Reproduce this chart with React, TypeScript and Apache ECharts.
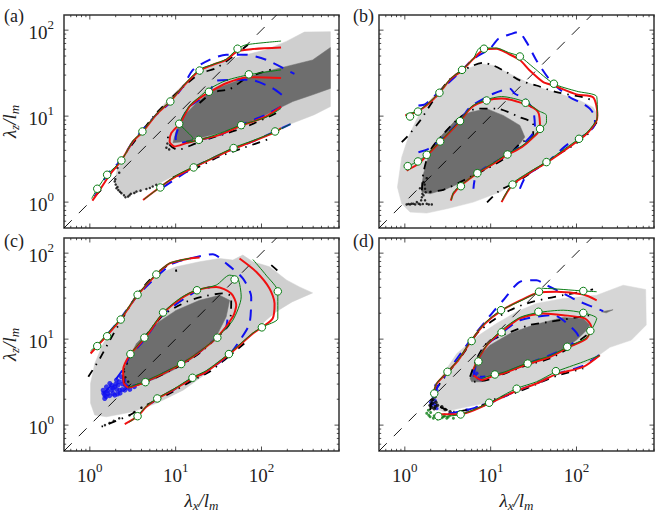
import React, { useEffect, useRef } from "react";
import * as echarts from "echarts";

type P = number[][];

const xTicks = [0.6,0.7,0.8,0.9,1,2,3,4,5,6,7,8,9,10,20,30,40,50,60,70,80,90,100,200,300,400,500,600,700,800];
const yTicks = [0.6,0.7,0.8,0.9,1,2,3,4,5,6,7,8,9,10,20,30,40,50,60,70,80,90,100];
const majorTicks = [1,10,100];
const diagonal: P = [[0.5,0.5],[150,150]];
const panelLabels = ["(a)","(b)","(c)","(d)"];

// (a)
const aLight: P = [[2.08,2.38],[3.19,4.85],[4.17,6.9],[5.95,10.8],[8.5,16.2],[12.7,24.1],[19,33],[27.2,39.6],[42.5,45],[66,51.7],[113,59],[195,74],[316,95],[635,96],[635,12.9],[413,10.4],[232,8.3],[148,6.8],[79.4,5.08],[46.4,4.06],[27.2,3.39],[15.9,2.6],[9.3,2],[5.95,1.59],[3.8,1.33],[2.67,1.16],[2.13,1.33],[1.95,1.74]];
const aDark: P = [[9.3,4.9],[10.2,6.9],[13.3,10.8],[17.4,14.2],[27.2,20.2],[42.5,24],[72.5,29],[113,33],[195,37.8],[394,45],[635,62.7],[635,21],[394,17.7],[232,14.8],[162,12.4],[103,9.9],[55.5,7.7],[32.5,6.35],[19,5.55],[13.3,5.08]];
const aRedUp: P = [[1.07,1.04],[1.31,1.39],[1.71,2.08],[2.33,3.05],[3.19,5.08],[4.17,6.63],[5.95,10.4],[8.66,14.8],[12.2,22.1],[19,33.9],[27.2,39.6],[38.8,45.2],[52.6,56.7],[79.4,60.2],[169,62.7]];
const aGreenUp: P = [[1.05,1.1],[1.22,1.43],[1.59,2.08],[2.33,3.05],[3.19,5.2],[4.1,6.63],[5.95,10.6],[8.66,15],[12.2,22.5],[19,35],[27.2,40],[38.8,46],[52.6,60.8],[66.3,67.6],[169,74.6]];
const aBlueUp: P = [[1.14,1.16],[1.6,2.1],[2.33,3.1],[3.19,5.08],[5.95,10.4],[8.66,14.4],[12.2,22.1],[15.9,34.5],[24.8,45.2],[38.8,51.7],[66.3,51.7],[113,45.2],[242,31]];
const aBlackUp: P = [[2.13,2.84],[3.19,4.85],[5.95,10.8],[12.2,21.8],[19,31],[29.7,36.3],[46.4,49.4],[69.4,67.6]];
const aRedLow: P = [[4.17,1.06],[6.5,1.48],[10.2,2],[16.2,2.53],[27.2,3.25],[47.3,4.17],[79.4,5.08],[144,6.5],[169,7.26]];
const aGreenLow: P = [[4.3,1.08],[6.63,1.5],[10.2,2.05],[16.2,2.58],[27.2,3.3],[47.3,4.3],[79.4,5.2],[144,6.6],[218,8.08]];
const aBlueLow: P = [[7.1,1.48],[16.2,2.53],[47.3,4.17],[79.4,5.08],[218,8.08]];
const aBlackLow: P = [[9.3,1.94],[19,2.6],[32.5,3.4],[60.6,4.25],[124,5.45]];
const aRedIn: P = [[169,12.9],[113,9.9],[58,7.73],[32.5,6.06],[19,5.3],[13.3,4.85],[9.7,4.44],[8.5,5.08],[8.9,6.35],[11.3,8.3],[14.5,12.9],[19,16.2],[24.4,18.9],[38.8,24.1],[69.4,28.3],[169,27.8]];
const aGreenIn: P = [[169,12.3],[113,9.7],[58,7.9],[32.5,6.3],[19,5.3],[14,5],[13.3,5.1],[16,5.4],[11.3,8.3],[14.5,13.2],[19,16.8],[24.4,20.6],[38.8,26],[71.2,30.3],[169,34.5]];
const aBlueIn: P = [[169,12.9],[113,10.4],[58,7.9],[32.5,6.06],[19,5.3],[13.3,5.0],[10.6,4.85],[10,5.55],[11.1,7.9],[14.5,12.9],[24.4,18.5],[29.7,25.8],[72.5,26.5],[135,21.1],[186,16.7]];
const aBlackIn: P = [[148,10.8],[60.6,7.26],[29.7,5.8],[17.4,4.85],[10.6,4.06],[8.5,4.64],[8.1,5.8]];
const aBlackInUp: P = [[19,14.2],[27.2,18.9],[42.5,20.6],[69.4,28.3],[148,36.3]];
const aMarks: P = [[1.22,1.43],[1.59,2.08],[2.33,3.05],[4.1,6.63],[8.66,14.8],[19,33.9],[52.6,60.8],[6.63,1.48],[16.2,2.53],[47.3,4.25],[144,6.63],[11,8.15],[24.4,19.2],[71.2,30.6],[18.6,5.3],[58,7.85]];
const aSpeck: P = [[1.95,1.74],[2.04,1.45],[2.33,1.27],[2.79,1.16],[3.49,1.33],[4.56,1.42],[5.95,1.59],[2,1.6],[2.15,1.38],[2.5,1.2],[3,1.25],[2.2,2.2],[2.1,2.5],[7.8,4.3],[8,4.8],[8.4,4.1],[1.98,1.85],[2.1,1.5],[2.25,1.32],[2.6,1.14],[2.9,1.2],[3.3,1.28],[3.9,1.36],[5,1.46],[5.4,1.52]];

// (b)
const bLight: P = [[0.82,1.49],[0.92,0.956],[1.15,0.765],[1.8,0.745],[3.09,0.837],[6.3,1],[12.8,1.31],[24,1.95],[44.7,3.05],[91,4.56],[156,7.8],[179,10.2],[156,12.7],[109,15.2],[64,18.2],[41,20.8],[26.2,24.9],[16.8,31],[10.7,38.9],[7.8,40.6],[5.26,35.6],[3.68,28.4],[2.58,20.8],[1.8,13.9],[1.38,9.3],[1.1,5.7],[0.92,3.33]];
const bDark: P = [[1.58,1.56],[1.65,2.14],[1.97,3.99],[2.58,5.7],[4.03,9.3],[5.75,11.1],[8.97,12.2],[14,10.2],[21.9,7.8],[25,5.7],[21.9,4.76],[15.3,3.49],[8.97,2.44],[5.26,1.79],[3.09,1.43],[1.97,1.25],[1.58,1.31]];
const bRedOut: P = [[1.01,10.2],[1.4,11.3],[1.88,13.9],[2.53,18.7],[3.43,27.1],[4.64,34],[6.3,46.4],[8.36,59.5],[11.7,60.8],[16.1,53],[21.9,45],[28.5,34],[41,24.9],[54.5,22.7],[100,17.9],[156,16.6],[175,10.7],[172,8.9],[137,6.5],[105,5.2],[64,3.65],[44.7,2.87],[28.5,2.19],[18,1.6],[13.4,1]];
const bGreenOut: P = [[1.03,10.5],[1.42,11.5],[1.88,14.2],[2.53,18.9],[3.43,27.5],[4.64,34.5],[6.3,47],[7.5,62],[11.7,62],[16.1,55],[21.9,49.4],[31.3,37],[54.5,23.8],[100,19.5],[172,16.9],[175,10.7],[172,9.1],[137,6.7],[105,5.4],[64,3.8],[44.7,2.95],[28.5,2.25],[18,1.65],[13.6,1.05]];
const bBlueOut: P = [[1.44,13.3],[1.72,13.7],[2.58,19.8],[4.6,34],[6.3,46.4],[9.8,60.8],[12.3,79.4],[17.5,90.5],[21,95],[26.2,72.5],[34.2,44.4],[51.3,24.9],[83.7,16.6],[120,13.9],[143,12.2],[164,9.7],[164,8.15],[131,6.2],[80,4.76],[44.7,2.87],[26.2,2.04],[21.9,1.43]];
const bBlackOut: P = [[0.92,4.98],[1.1,5.96],[1.51,8.9],[2.15,15.2],[3.37,27.1],[4.6,33.4],[6.3,38.9],[8.2,41.7],[10.7,38.9],[15.3,32.4],[21.9,26],[34.2,22.7],[58.5,19],[120,16.6],[156,15.2]];
const bBlackLow: P = [[172,8.5],[131,5.96],[91,4.56],[58.5,3.49],[34.2,2.44],[20.1,1.71],[12.8,1.37],[8.6,0.94]];
const bRedIn: P = [[1.05,2.33],[1.44,2.79],[1.8,3.49],[2.58,4.98],[4.4,8.75],[6,12.7],[8.97,15.2],[13.4,16],[25.5,13.7],[35.8,11.1],[37.6,7.1],[30,5.45],[23,4.36],[15.3,3.49],[10.7,2.79],[7.1,2.19],[4.5,1.56],[3.68,1.25],[3.43,1.04]];
const bGreenIn: P = [[1.07,2.62],[1.42,2.97],[1.8,3.58],[2.58,5.07],[4.4,8.9],[6,13],[8.8,15.5],[13.4,16.9],[25.5,14.6],[35.8,11.6],[44.7,10.2],[44.7,8.5],[37.6,7],[30,5.6],[23,4.5],[15.3,3.6],[10.7,2.85],[7.1,2.22],[4.5,1.58],[3.68,1.3],[3.5,1.06]];
const bBlueIn: P = [[1.44,3.81],[1.88,4.17],[2.58,5.2],[4.4,8.9],[5.75,12.7],[10.7,18.2],[16.8,20.8],[19.2,18.2],[25,16],[31.3,11.6],[32.8,7.1],[24,4.76],[15.3,3.49],[6.9,2.13],[6.3,1.43]];
const bBlackIn: P = [[1.58,1.37],[1.65,2.23],[1.97,3.99],[2.82,6.2],[4.4,9.7],[6.9,12.2],[11.7,12.2],[21.9,9.7],[31.3,8.15],[31.3,6.2],[21.9,4.76],[15.3,3.33],[8.97,2.44],[5.26,1.87],[2.82,1.39],[1.8,1.31]];
const bMarks: P = [[1.15,9.9],[1.42,11.3],[2.53,18.7],[4.64,34.5],[8.36,60.8],[21.9,49.4],[54.5,23.8],[107,5.45],[44.7,2.92],[18,1.6],[1.08,2.62],[1.42,2.97],[1.8,3.55],[2.58,5.07],[4.4,8.75],[8.97,15.2],[25.5,14.3],[37.6,7.1],[15.7,3.58],[7,2.17],[4.5,1.53]];
const bSpeck: P = [[1.05,0.94],[1.15,0.94],[1.26,0.956],[1.38,1],[1.51,0.94],[1.8,0.956],[2.06,0.94],[1.58,1.14],[1.72,1.05],[1.65,1.71],[1.72,1.43],[1.97,1.31],[1.6,1.25],[1.7,1.6],[1.8,1.9],[1.5,1.45],[1.1,0.95],[1.2,0.96],[1.32,0.94],[1.45,0.96],[1.62,0.95],[1.9,0.94],[1.55,1.05],[1.65,1.2],[1.75,1.3]];

// (c)
const cLight: P = [[1.02,1.79],[1.14,1.31],[1.56,1.25],[3.19,1.43],[5.95,1.79],[12.2,2.55],[22.7,3.98],[38.8,6.2],[72.5,10.7],[113,16.6],[148,20.8],[227,27.1],[394,34.5],[277,40.5],[197,48.5],[124,69.5],[79.4,79.4],[60.6,95],[46.4,83],[32.5,86.7],[19,79.4],[10.2,69.5],[6.5,58.2],[4.56,40.5],[3.19,27.1],[2.04,15.2],[1.43,8.9],[1.14,5.2],[1.02,3.05]];
const cDark: P = [[2.44,3.34],[2.55,4.76],[3.49,8.9],[5.95,15.2],[10.2,21.7],[19,28.3],[32.5,32.4],[42.5,28.3],[38.8,18.2],[29.7,10.7],[19,6.8],[11.1,4.76],[5.95,3.49],[3.19,2.79],[2.55,2.67]];
const cRedUp: P = [[1.02,6.8],[1.22,8.3],[1.59,11.1],[2.27,16.9],[3.6,32.4],[5.95,56.4],[8.5,75.9],[14.6,86.7],[19,89]];
const cGreenUp: P = [[1.02,7.3],[1.22,8.6],[1.59,11.5],[2.27,17.3],[3.6,33],[5.95,57.5],[8.5,76.5],[14.6,87]];
const cRedRight: P = [[55.5,86.7],[86.7,60.8],[124,38.9],[142,26],[135,17.4],[103,13.9],[79.4,11.6],[42.5,6.7],[22.7,4.17],[15.7,3.49],[9.3,2.55],[6.2,2.04],[4.56,1.63],[3.55,1.25],[2.55,1.03]];
const cGreenRight: P = [[79.4,84.3],[113,55.5],[155,35.6],[155,17.4],[103,13.9],[79.4,11.8],[42.5,6.9],[22.7,4.3],[15.7,3.6],[9.3,2.6],[6.2,2.08],[4.56,1.66],[3.55,1.27],[2.9,1.08]];
const cBlue: P = [[1.63,11.6],[2.23,16.9],[3.49,31],[5.95,53],[9.3,75.9],[14.6,86.7],[27.2,97],[38.8,75.9],[60.6,50.8],[75.9,31],[72.5,15.2],[58,10.2],[42.5,6.7],[22.7,4.17],[15.7,3.49],[9.3,2.55],[6.2,2.04],[4.56,1.63]];
const cBlackUp: P = [[0.96,3.65],[1.31,5.96],[1.71,9.7],[2.33,16.6],[3.65,34],[5.95,58],[9.3,75.9],[10.2,60.8]];
const cBlackRight: P = [[130,72.5],[159,60.8]];
const cBlackLow: P = [[63,8.9],[38.8,5.96],[24.8,4.17],[15.9,3.33],[7.8,2.23],[4.56,1.71],[2.92,1.31],[1.37,0.96]];
const cRedIn: P = [[2.48,3.05],[2.79,2.74],[4.44,3.19],[11.6,5.13],[19,7.1],[31,10.7],[46.4,18.2],[50.8,24.9],[44.4,34],[29.7,40.5],[17.7,37],[11.6,29.7],[7.13,19.9],[4.36,10.2],[2.97,6.7],[2.44,4.36],[2.48,3.05]];
const cGreenIn: P = [[2.79,2.74],[4.44,3.25],[11.6,5.2],[19,7.2],[31,10.7],[46.4,16.6],[58,31],[53,50.8],[42.5,55.5],[29.7,42.5],[17.7,37.5],[11.6,30.5],[7.13,20.4],[4.36,10.6],[2.97,6.8]];
const cBlueIn: P = [[1.43,2.33],[1.71,2.79],[2.33,4.17],[2.97,6.5],[4.36,9.9],[7.13,19.4],[17.7,36.5],[25,40]];
const cBlueInLow: P = [[4.44,3.19],[11.6,5.13],[19,7.1],[31,10.7],[38.8,13.9],[40.5,19.9]];
const cBlackIn: P = [[2.92,6.5],[2.44,3.98],[2.67,2.79],[4.44,3.16],[11.6,5],[19,6.9],[31,10.7],[42.5,15.2],[44.4,31],[35.6,34],[22.7,31.9],[13.3,27.1],[7.13,19],[4.56,11.1]];
const cMarks: P = [[1.22,8.3],[1.59,10.8],[2.29,16.9],[3.6,32.8],[5.95,56.4],[155,35.9],[101,13.7],[41.7,6.7],[15.7,3.55],[6.1,2.04],[3.6,1.27],[48.6,49.4],[17.7,37],[7.13,20.4],[4.32,10.4],[2.97,6.7],[4.44,3.16],[11.6,5.13],[30.6,10.4]];
const cBlueCloud: P = [[1.43,2.55],[1.49,2.23],[1.63,2.33],[1.79,2.55],[1.95,2.79],[2.13,2.92],[2.23,2.55],[1.87,2.33],[1.56,2.79],[1.71,3.05],[2.04,3.34],[2.33,3.65],[2.55,2.55],[1.49,2.04],[1.95,2.23],[2.92,2.6],[1.6,2.5],[1.85,2.7],[2.05,2.6],[2.4,3],[2.2,3.2],[1.7,2.2],[2.6,2.9],[2.25,2.35],[1.45,2.35],[3.3,2.8],[2.1,2.3],[2.4,2.6],[1.55,2.15],[1.8,2.9],[2,3],[2.5,3.3],[2.75,2.75]];
const cSpeck: P = [[1.5,1],[1.7,1.06],[1.9,1.12],[2.2,1.2],[2.9,1.3],[3.3,1.42],[4,1.6],[2.6,3.6],[2.8,3.2],[2.7,5.2],[2.5,4.2]];

// (d)
const dLight: P = [[1.97,1.63],[2.82,1.43],[8.97,1.82],[20.1,2.6],[58.5,3.92],[143,5.45],[245,8.03],[436,9.75],[650,14.6],[640,37.8],[350,42.4],[172,32.4],[70,29.7],[34.2,26],[20.1,20.8],[11.7,15.2],[6.9,10.7],[4.03,6.8],[2.82,3.98],[2.15,2.33]];
const dDark: P = [[5.75,3.49],[6.9,5.96],[9.8,8.5],[16.8,11.6],[31.3,14.6],[70,17.9],[120,17.4],[143,14.6],[131,12.7],[100,9.75],[58.5,6.8],[31.3,5.2],[15.3,4.17],[8.97,3.65],[7.8,3.19],[6,3.19]];
const dDarkTip: P = [[195,20.8],[267,22],[222,20.2]];
const dRedUp: P = [[2.15,2.33],[2.36,3.05],[3.16,4.17],[4.2,5.7],[6,9.75],[8.6,15.2],[13.2,21.3],[21.9,28],[36.6,34.9],[58.5,35.6],[120,33],[172,28.3]];
const dGreenUp: P = [[2.15,2.4],[2.36,3.1],[3.16,4.2],[4.2,5.8],[6,9.9],[8.6,15.5],[13.2,21.7],[21.9,27.5],[36.6,35.6],[41,38.9],[120,36.3],[172,35.6]];
const dBlueUp: P = [[2.15,2.33],[3.16,4.17],[6,10.2],[8.6,15.9],[10.7,20.8],[14,28.3],[21.9,46.4],[34.2,48.5],[44.7,42.4],[64,35.6],[100,28.3],[205,21.2]];
const dBlackUp: P = [[1.97,1.49],[2.15,2.33],[3.37,4.36],[4.8,6.8],[6.9,11.6],[10.7,16.6],[16.8,21.7],[26.2,26],[44.7,29.7],[70,32.4],[156,37.8]];
const dRedLow: P = [[2.36,1.34],[4.4,1.34],[9.6,1.79],[20.1,2.51],[34.2,3.05],[58.5,3.92],[120,4.76],[187,6.5]];
const dGreenLow: P = [[2.46,1.25],[4.47,1.33],[9.6,1.82],[20.1,2.67],[34.2,3.19],[57.5,4.17],[120,5.45],[187,6.5]];
const dBlueLow: P = [[3.2,1.35],[5.26,1.5],[9.6,1.79],[20.1,2.51],[34.2,3.05],[58.5,3.92],[120,4.9],[187,6.6]];
const dBlackLow: P = [[2.58,1.63],[3.68,1.43],[6.9,1.6],[11.7,2.04],[20.1,2.4],[34.2,3],[58.5,3.74],[120,4.56]];
const dRedIn: P = [[6.3,4.44],[7.2,5.96],[9.4,8.9],[13.4,12.2],[21.9,17.4],[41,19.9],[70,19],[125,17.4],[149,13.9],[131,10.2],[80,8.03],[49,6.2],[27,5.13],[14,3.98],[11.2,3.81],[7.9,3.34],[6.3,3.8]];
const dGreenIn: P = [[6.5,4.6],[7.2,6.1],[9.4,9],[13.4,12.7],[21.9,17.9],[36,20.4],[70,21.7],[120,20.2],[172,17.4],[149,12.7],[131,10.4],[80,8.2],[49,6.4],[27,5.3],[14,4.1],[11.2,3.9],[7.9,3.5]];
const dBlueIn: P = [[6.3,3.65],[6.9,5.45],[8.97,8.5],[14,12.2],[21.9,16.6],[53.5,19],[70,16.6],[105,10.7],[80,8.15],[49,6.5],[27,5.2],[11.7,3.81],[7.5,3.65]];
const dBlackInUp: P = [[5.75,3.65],[6.9,5.96],[8.97,8.9],[15.3,11.6],[28.5,14.6],[49,15.9],[143,19]];
const dBlackInLow: P = [[131,11.1],[80,7.8],[49,5.96],[27,5],[14,3.92],[8.97,3.34],[6.3,3.19]];
const dMarks: P = [[6,9.5],[3.14,4.17],[2.2,2.33],[2.46,1.27],[4.47,1.33],[9.6,1.82],[20.1,2.65],[57.5,4.24],[120,36.3],[36.6,35.6],[13.2,21.7],[7.2,5.5],[11.2,3.88],[27,5.2],[78,8.15],[145,12.5],[120,20.2],[36,20.8],[13.4,12]];
const dGreenSpeck: P = [[1.8,1.37],[1.97,1.25],[2.15,1.2],[2.58,1.2],[3.08,1.2],[3.68,1.2],[1.88,1.49],[2.36,1.31],[2.82,1.25],[3.37,1.31],[2,1.4],[2.4,1.18],[2.9,1.32],[1.9,1.3],[2.2,1.28],[2.7,1.22],[3.2,1.24]];
const dBlueSpeck: P = [[2.15,1.79],[2.25,1.95],[2.36,2.55],[2.36,1.56],[5.26,1.5],[6.9,1.6],[8.2,1.7],[2.15,2.14],[2.05,1.7],[2.3,2.9],[6.6,3.8],[7.2,3.5],[6.3,4.2],[7.7,3.4],[6.9,4],[2.2,2.4],[2.28,1.7],[2,1.85]];
const dBlackSpeck: P = [[1.97,1.7],[2.06,1.95],[2.25,2.14],[2.25,1.63],[2.7,1.63],[3.37,1.43],[4.4,1.43],[2.1,1.8],[2.15,2.3],[2.2,1.55],[2.4,1.7],[2.95,1.52],[2.12,2],[2.3,1.85],[2.05,1.6]];

const RED = "#f01010", GREEN = "#0a7d14", BLUE = "#1010f0", BLACK = "#000000";
const SERIF = "Liberation Serif";
const GRIDS = [
  { left: 64, top: 15, width: 275, height: 213 },
  { left: 379, top: 15, width: 275, height: 213 },
  { left: 64, top: 238, width: 275, height: 213 },
  { left: 379, top: 238, width: 275, height: 213 },
];

const isPow = (v: number) => Math.abs(Math.log10(v) - Math.round(Math.log10(v))) < 1e-6;

function fill(i: number, pts: P, color: string) {
  return {
    type: "custom", xAxisIndex: i, yAxisIndex: i, silent: true, z: 1, data: pts,
    renderItem: (p: any, api: any) =>
      p.dataIndex !== 0 ? null : {
        type: "polygon",
        shape: { points: pts.map((q) => api.coord(q)) },
        style: { fill: color, stroke: color, lineWidth: 0.5 },
      },
  };
}

function ticks(i: number, dir: "x" | "y") {
  const vals = dir === "x" ? xTicks : yTicks;
  return {
    type: "custom", xAxisIndex: i, yAxisIndex: i, silent: true, z: 6, clip: false,
    data: vals.map((v) => (dir === "x" ? [v, 0.5] : [0.5, v])),
    renderItem: (p: any, api: any) => {
      const v = vals[p.dataIndex];
      const len = majorTicks.includes(v) ? 4.5 : 2.2;
      const a = api.coord(dir === "x" ? [v, 0.5] : [0.5, v]);
      const b = api.coord(dir === "x" ? [v, 150] : [800, v]);
      const seg = (x1: number, y1: number, x2: number, y2: number) => ({
        type: "line", shape: { x1, y1, x2, y2 }, style: { stroke: "#222", lineWidth: 0.8 },
      });
      return {
        type: "group",
        children: dir === "x"
          ? [seg(a[0], a[1], a[0], a[1] - len), seg(b[0], b[1], b[0], b[1] + len)]
          : [seg(a[0], a[1], a[0] + len, a[1]), seg(b[0], b[1], b[0] - len, b[1])],
      };
    },
  };
}

const line = (i: number, data: P, color: string, width: number, dash: any, z: number) => ({
  type: "line", xAxisIndex: i, yAxisIndex: i, data, showSymbol: false, silent: true, z,
  lineStyle: { color, width, type: dash, cap: "butt" }, smooth: 0.25,
});
const red = (i: number, d: P) => line(i, d, RED, 2, "solid", 12);
const green = (i: number, d: P) => line(i, d, GREEN, 1, "solid", 13);
const blue = (i: number, d: P) => line(i, d, BLUE, 2, [11, 8], 11);
const black = (i: number, d: P) => line(i, d, BLACK, 1.8, [8, 6, 1.5, 6], 10);
const dots = (i: number, d: P, color: string, size: number) => ({
  type: "scatter", xAxisIndex: i, yAxisIndex: i, data: d, symbolSize: size, silent: true, z: 9,
  itemStyle: { color },
});
const marks = (i: number, d: P) => ({
  type: "scatter", xAxisIndex: i, yAxisIndex: i, data: d, symbolSize: 7.5, silent: true, z: 14,
  itemStyle: { color: "#fff", borderColor: GREEN, borderWidth: 1, opacity: 1 },
});
const diag = (i: number) => ({
  type: "line", xAxisIndex: i, yAxisIndex: i, data: diagonal, showSymbol: false, silent: true, z: 5,
  lineStyle: { color: "#000", width: 0.9, type: [11, 10] },
});

const nameRich = {
  i: { fontFamily: SERIF, fontSize: 19, fontStyle: "italic", color: "#222", lineHeight: 24, verticalAlign: "middle" },
  s: { fontFamily: SERIF, fontSize: 13, fontStyle: "italic", color: "#222", lineHeight: 13, verticalAlign: "bottom" },
};
const labelRich = {
  b: { fontFamily: SERIF, fontSize: 19, color: "#222", lineHeight: 24, verticalAlign: "bottom" },
  t: { fontFamily: SERIF, fontSize: 13, color: "#222", lineHeight: 13, verticalAlign: "top" },
};

function axis(i: number, dir: "x" | "y") {
  const showLabel = dir === "x" ? i >= 2 : i % 2 === 0;
  const text = dir === "x" ? "{i|λ}{s|x}{i|/l}{s|m}" : "{i|λ}{s|z}{i|/l}{s|m}";
  return {
    type: "log", logBase: 10, gridIndex: i,
    min: 0.5, max: dir === "x" ? 800 : 150,
    axisLine: { show: false }, axisTick: { show: false }, splitLine: { show: false }, minorTick: { show: false },
    axisLabel: {
      show: showLabel, margin: 10, showMinLabel: false, showMaxLabel: false,
      rich: labelRich,
      formatter: (v: number) => (isPow(v) ? `{b|10}{t|${Math.round(Math.log10(v))}}` : ""),
    },
    name: showLabel ? text : "",
    nameLocation: "middle",
    nameGap: dir === "x" ? 37 : 43,
    nameRotate: dir === "x" ? 0 : 90,
    nameTextStyle: { rich: nameRich },
  };
}

const seriesList = [
  fill(0, aLight, "#cfcfcf"), fill(0, aDark, "#6e6e6e"),
  fill(1, bLight, "#d6d6d6"), fill(1, bDark, "#6e6e6e"),
  fill(2, cLight, "#cfcfcf"), fill(2, cDark, "#6e6e6e"),
  fill(3, dLight, "#d6d6d6"), fill(3, dDark, "#6e6e6e"), fill(3, dDarkTip, "#6e6e6e"),
  ...[0, 1, 2, 3].flatMap((i) => [ticks(i, "x"), ticks(i, "y"), diag(i)]),
  // (a)
  black(0, aBlackUp), black(0, aBlackLow), black(0, aBlackIn), black(0, aBlackInUp),
  blue(0, aBlueUp), blue(0, aBlueLow), blue(0, aBlueIn),
  red(0, aRedUp), red(0, aRedLow), red(0, aRedIn),
  green(0, aGreenUp), green(0, aGreenLow), green(0, aGreenIn),
  dots(0, aSpeck, "#000", 2.5), marks(0, aMarks),
  // (b)
  black(1, bBlackOut), black(1, bBlackLow), black(1, bBlackIn),
  blue(1, bBlueOut), blue(1, bBlueIn),
  red(1, bRedOut), red(1, bRedIn),
  green(1, bGreenOut), green(1, bGreenIn),
  dots(1, bSpeck, "#000", 2.5), marks(1, bMarks),
  // (c)
  black(2, cBlackUp), black(2, cBlackRight), black(2, cBlackLow), black(2, cBlackIn),
  dots(2, cBlueCloud, BLUE, 5), dots(2, cSpeck, "#000", 2.5),
  blue(2, cBlue), blue(2, cBlueIn), blue(2, cBlueInLow),
  red(2, cRedUp), red(2, cRedRight), red(2, cRedIn),
  green(2, cGreenUp), green(2, cGreenRight), green(2, cGreenIn),
  marks(2, cMarks),
  // (d)
  black(3, dBlackUp), black(3, dBlackLow), black(3, dBlackInUp), black(3, dBlackInLow),
  blue(3, dBlueUp), blue(3, dBlueLow), blue(3, dBlueIn),
  red(3, dRedUp), red(3, dRedLow), red(3, dRedIn),
  green(3, dGreenUp), green(3, dGreenLow), green(3, dGreenIn),
  dots(3, dGreenSpeck, GREEN, 3), dots(3, dBlueSpeck, BLUE, 3.5), dots(3, dBlackSpeck, "#000", 3.5),
  marks(3, dMarks),
];

export default function App() {
  const ref = useRef<HTMLDivElement>(null);
  useEffect(() => {
    const chart = echarts.init(ref.current!, null, { renderer: "svg" });
    chart.setOption({
      animation: false,
      backgroundColor: "#fff",
      grid: GRIDS.map((g) => ({ ...g, outerBoundsMode: "none", containLabel: false, show: true, borderColor: "#333", borderWidth: 1.5, backgroundColor: "#fff", z: 0 })),
      xAxis: [0, 1, 2, 3].map((i) => axis(i, "x")),
      yAxis: [0, 1, 2, 3].map((i) => axis(i, "y")),
      series: seriesList,
      graphic: panelLabels.map((t, i) => ({
        type: "text",
        x: [4, 353, 4, 353][i],
        y: [7, 7, 232, 232][i],
        style: { text: t, fontFamily: SERIF, fontSize: 18, fill: "#222" },
      })),
    });
    return () => chart.dispose();
  }, []);
  return <div ref={ref} style={{ position: "fixed", left: 0, top: 0, width: 664, height: 519 }} />;
}
